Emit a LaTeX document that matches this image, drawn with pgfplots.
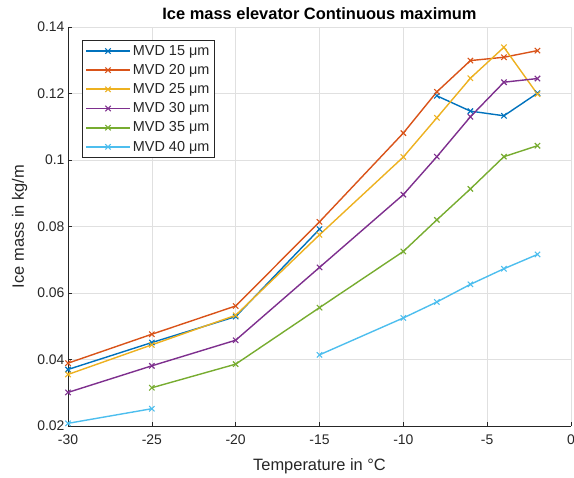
\documentclass[border=0pt]{standalone}
\usepackage{fontspec}
\setmainfont{Liberation Sans}
\usepackage{pgfplots}
\pgfplotsset{compat=1.18}
\definecolor{c1}{rgb}{0,0.447,0.741}
\definecolor{c2}{rgb}{0.85,0.325,0.098}
\definecolor{c3}{rgb}{0.929,0.694,0.125}
\definecolor{c4}{rgb}{0.494,0.184,0.556}
\definecolor{c5}{rgb}{0.466,0.674,0.188}
\definecolor{c6}{rgb}{0.301,0.745,0.933}
\definecolor{axisgray}{HTML}{262626}
\definecolor{gridgray}{HTML}{E0E0E0}
\begin{document}
\begin{tikzpicture}
\begin{axis}[
  at={(0,0)}, anchor=south west,
  scale only axis, width=503bp, height=399bp,
  xmin=-30, xmax=0, ymin=0.02, ymax=0.14,
  xtick={-30,-25,-20,-15,-10,-5,0},
  ytick={0.02,0.04,0.06,0.08,0.1,0.12,0.14},
  axis lines=left,
  axis line style={-, draw=axisgray, line width=0.8bp},
  tick align=inside, major tick length=4bp,
  tick style={draw=axisgray, line width=0.6bp},
  grid=major, grid style={draw=gridgray, line width=0.6bp},
  /pgf/number format/assume math mode=true,
  yticklabel style={/pgf/number format/fixed, /pgf/number format/precision=2, font=\fontsize{14}{16}\selectfont, text=axisgray},
  xticklabel style={font=\fontsize{14}{16}\selectfont, text=axisgray, yshift=-5bp},
  title={Ice mass elevator Continuous maximum},
  title style={font=\bfseries\fontsize{16.5}{19}\selectfont, at={(axis description cs:0.5,1.004)}, anchor=base},
  xlabel={Temperature in °C},
  xlabel style={font=\fontsize{16.5}{19}\selectfont, text=axisgray, at={(axis description cs:0.5,-0.1103)}, anchor=base},
  ylabel={Ice mass in kg/m},
  ylabel style={font=\fontsize{16.5}{19}\selectfont, text=axisgray, at={(axis description cs:-0.0875,0.5)}, anchor=base, rotate=0},
  unbounded coords=jump,
  every axis plot/.append style={line width=1.4bp, mark=x, mark size=3.8bp, mark options={solid, line width=1.1bp}},
  legend style={at={(axis description cs:0.0278,0.967)}, anchor=north west, draw=axisgray, font=\fontsize{14.5}{16}\selectfont, text=axisgray, row sep=3.6bp, inner xsep=3bp, inner ysep=3bp},
  legend cell align=left,
  legend image code/.code={\draw[mark repeat=2,mark phase=2,#1,line width=1.7bp] plot coordinates {(0bp,0bp) (22bp,0bp) (44bp,0bp)};},
]
\addplot[c1] coordinates {(-30,0.0370)(-25,0.0451)(-20,0.0529)(-15,0.0792)(-10,nan)(-8,0.1193)(-6,0.1147)(-4,0.1133)(-2,0.1201)};
\addlegendentry{MVD 15 μm}
\addplot[c2] coordinates {(-30,0.0389)(-25,0.0476)(-20,0.0561)(-15,0.0814)(-10,0.1081)(-8,0.1205)(-6,0.1299)(-4,0.1309)(-2,0.1329)};
\addlegendentry{MVD 20 μm}
\addplot[c3] coordinates {(-30,0.0355)(-25,0.0444)(-20,0.0533)(-15,0.0775)(-10,0.1009)(-8,0.1127)(-6,0.1246)(-4,0.1339)(-2,0.1198)};
\addlegendentry{MVD 25 μm}
\addplot[c4] coordinates {(-30,0.0301)(-25,0.0381)(-20,0.0458)(-15,0.0677)(-10,0.0896)(-8,0.1010)(-6,0.1130)(-4,0.1234)(-2,0.1245)};
\addlegendentry{MVD 30 μm}
\addplot[c5] coordinates {(-25,0.0315)(-20,0.0386)(-15,0.0556)(-10,0.0725)(-8,0.0820)(-6,0.0913)(-4,0.1010)(-2,0.1043)};
\addlegendentry{MVD 35 μm}
\addplot[c6] coordinates {(-30,0.0208)(-25,0.0252)(-20,nan)(-15,0.0414)(-10,0.0525)(-8,0.0573)(-6,0.0626)(-4,0.0673)(-2,0.0716)};
\addlegendentry{MVD 40 μm}
\end{axis}
\pgfresetboundingbox
\path[use as bounding box] (-68bp,-52bp) rectangle (506bp,426bp);
\end{tikzpicture}
\end{document}
